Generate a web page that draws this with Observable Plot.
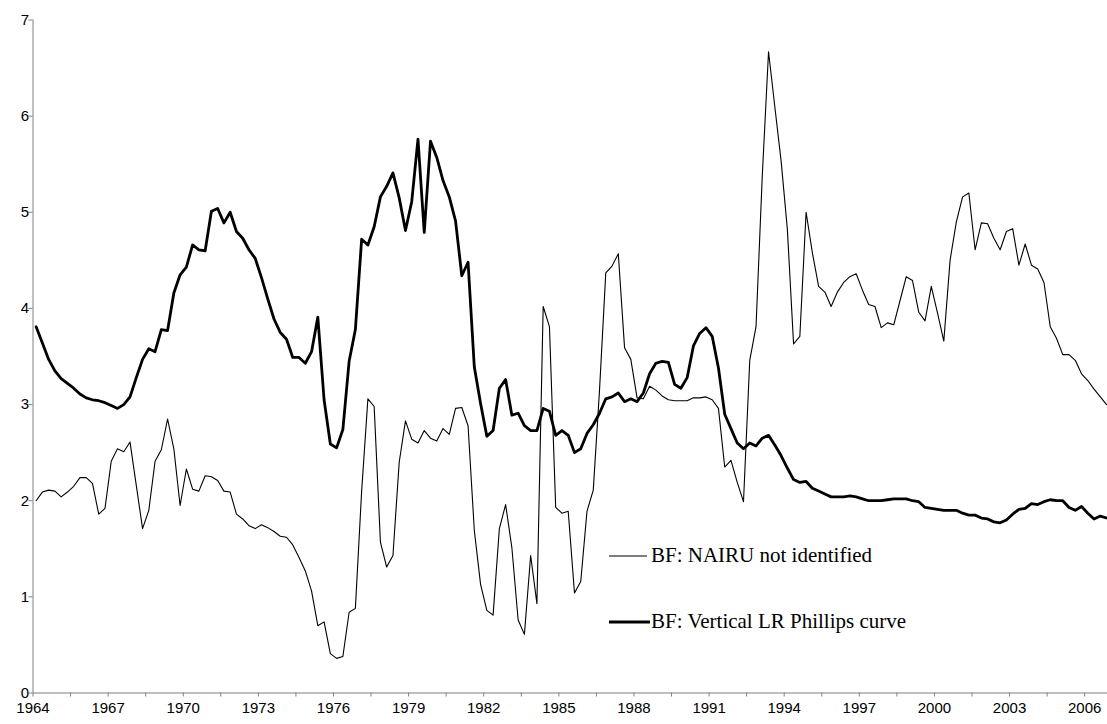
<!DOCTYPE html>
<html>
<head>
<meta charset="utf-8">
<script src="https://cdn.jsdelivr.net/npm/d3@7"></script>
<script src="https://cdn.jsdelivr.net/npm/@observablehq/plot@0.6"></script>
<style>
  html, body { margin: 0; padding: 0; background: #fff; }
  #wrap { position: relative; width: 1107px; height: 724px; overflow: hidden; background: #fff; }
  #wrap svg.plot { position: absolute; left: 0; top: 0; }
  .legtext { position: absolute; left: 651px; font-family: "Liberation Serif", "Times New Roman", serif; font-size: 21px; line-height: 21px; white-space: nowrap; color: #000; }
  #legsvg { position: absolute; left: 0; top: 0; pointer-events: none; }
</style>
</head>
<body>
<div id="wrap"></div>
<script>
// Quarterly data, 1964Q1 .. 2006Q4
const startYear = 1964;

const nairuNotIdentified = [
  2.00,2.09,2.11,2.10,2.04,2.09,2.15,2.24,2.24,2.18,
  1.86,1.92,2.41,2.54,2.51,2.61,2.16,1.71,1.90,2.41,
  2.53,2.85,2.54,1.95,2.33,2.12,2.10,2.26,2.25,2.21,
  2.10,2.09,1.86,1.81,1.74,1.71,1.75,1.72,1.68,1.63,
  1.62,1.54,1.41,1.27,1.06,0.70,0.74,0.41,0.36,0.38,
  0.84,0.88,2.10,3.06,2.98,1.57,1.31,1.43,2.40,2.83,
  2.64,2.60,2.73,2.65,2.62,2.75,2.69,2.96,2.97,2.78,
  1.69,1.13,0.86,0.81,1.71,1.96,1.51,0.76,0.61,1.43,
  0.93,4.02,3.81,1.93,1.87,1.89,1.04,1.16,1.89,2.11,
  3.15,4.37,4.44,4.57,3.59,3.47,3.07,3.06,3.19,3.15,
  3.09,3.05,3.04,3.04,3.04,3.07,3.07,3.08,3.05,2.96,
  2.35,2.42,2.19,1.99,3.46,3.81,5.38,6.67,6.10,5.54,
  4.83,3.63,3.71,5.00,4.58,4.23,4.17,4.02,4.17,4.27,
  4.33,4.36,4.19,4.04,4.02,3.80,3.85,3.83,4.08,4.33,
  4.29,3.96,3.87,4.23,3.95,3.66,4.50,4.90,5.16,5.20,
  4.61,4.89,4.88,4.73,4.61,4.80,4.83,4.45,4.67,4.45,
  4.41,4.27,3.81,3.69,3.52,3.52,3.46,3.32,3.25,3.16,
  3.08,3.00
];

const verticalLRPhillips = [
  3.81,3.64,3.47,3.35,3.27,3.22,3.17,3.11,3.07,3.05,
  3.04,3.02,2.99,2.96,3.00,3.08,3.28,3.47,3.58,3.55,
  3.78,3.77,4.16,4.35,4.43,4.66,4.61,4.60,5.01,5.04,
  4.89,5.00,4.80,4.73,4.61,4.52,4.32,4.10,3.89,3.75,
  3.68,3.49,3.49,3.43,3.55,3.91,3.05,2.59,2.55,2.74,
  3.45,3.78,4.72,4.66,4.85,5.16,5.27,5.41,5.15,4.81,
  5.11,5.76,4.79,5.74,5.57,5.33,5.16,4.91,4.34,4.48,
  3.39,3.01,2.67,2.73,3.17,3.26,2.89,2.91,2.78,2.73,
  2.73,2.96,2.93,2.68,2.73,2.68,2.50,2.54,2.70,2.79,
  2.91,3.06,3.08,3.12,3.03,3.06,3.03,3.12,3.32,3.43,
  3.45,3.44,3.21,3.17,3.28,3.61,3.74,3.80,3.71,3.38,
  2.90,2.75,2.60,2.54,2.60,2.57,2.65,2.68,2.58,2.47,
  2.34,2.22,2.19,2.20,2.13,2.10,2.07,2.04,2.04,2.04,
  2.05,2.04,2.02,2.00,2.00,2.00,2.01,2.02,2.02,2.02,
  2.00,1.99,1.93,1.92,1.91,1.90,1.90,1.90,1.87,1.85,
  1.85,1.82,1.81,1.78,1.77,1.80,1.86,1.91,1.92,1.97,
  1.96,1.99,2.01,2.00,2.00,1.93,1.90,1.94,1.87,1.81,
  1.84,1.82
];

const seriesNames = ["BF: NAIRU not identified", "BF: Vertical LR Phillips curve"];
const yearLabels = ["1964","1967","1970","1973","1976","1979","1982","1985","1988","1991","1994","1997","2000","2003","2006"];
const yTicks = [0, 1, 2, 3, 4, 5, 6, 7];

// Each quarter sits in the middle of its category slot (Excel "between tick marks")
const rows = nairuNotIdentified.map((v, i) => ({
  t: startYear + i / 4 + 0.125,
  nairu: v,
  vlr: verticalLRPhillips[i]
}));

const tickBoundaries = d3.range(0, 42.5, 1.5).map(d => startYear + d);
const labelPositions = yearLabels.map(Number);
const axisGray = "#808080";

const chart = Plot.plot({
  width: 1107,
  height: 724,
  marginTop: 19.5,
  marginBottom: 31.5,
  marginLeft: 32.5,
  marginRight: 0,
  x: { domain: [1964, 2007], range: [32.5, 1109.2] },
  y: { domain: [0, 7] },
  style: {
    fontFamily: "'Liberation Sans', Arial, sans-serif",
    fontSize: "15px",
    color: "black",
    background: "white",
    overflow: "visible"
  },
  marks: [
    Plot.ruleY([0], { stroke: axisGray }),
    Plot.ruleX([1964], { stroke: axisGray }),
    Plot.axisY(yTicks, { tickSize: 4, tickPadding: 0, stroke: axisGray, fill: "black", label: null, tickFormat: d => String(d) }),
    Plot.axisX(tickBoundaries, { tickSize: 4, stroke: axisGray, tickFormat: () => "", label: null }),
    Plot.axisX(labelPositions, { tickSize: 0, tickPadding: 9, fill: "black", tickFormat: d => String(d), label: null }),
    Plot.line(rows, { x: "t", y: "nairu", stroke: "black", strokeWidth: 1.1 }),
    Plot.line(rows, { x: "t", y: "vlr", stroke: "black", strokeWidth: 2.8 })
  ]
});
chart.classList.add("plot");

const wrap = document.getElementById("wrap");
wrap.appendChild(chart);

// Legend (inside the plot area)
const ns = "http://www.w3.org/2000/svg";
const leg = document.createElementNS(ns, "svg");
leg.setAttribute("id", "legsvg");
leg.setAttribute("width", 1107);
leg.setAttribute("height", 724);
const legendItems = [
  { name: seriesNames[0], width: 1, x2: 647, cy: 556, top: 545.4 },
  { name: seriesNames[1], width: 3, x2: 650, cy: 622, top: 611.4 }
];
legendItems.forEach(it => {
  const ln = document.createElementNS(ns, "line");
  ln.setAttribute("x1", 609);
  ln.setAttribute("x2", it.x2);
  ln.setAttribute("y1", it.cy);
  ln.setAttribute("y2", it.cy);
  ln.setAttribute("stroke", "black");
  ln.setAttribute("stroke-width", it.width);
  leg.appendChild(ln);
  const sp = document.createElement("div");
  sp.className = "legtext";
  sp.style.top = it.top + "px";
  sp.textContent = it.name;
  wrap.appendChild(sp);
});
wrap.appendChild(leg);
</script>
</body>
</html>
